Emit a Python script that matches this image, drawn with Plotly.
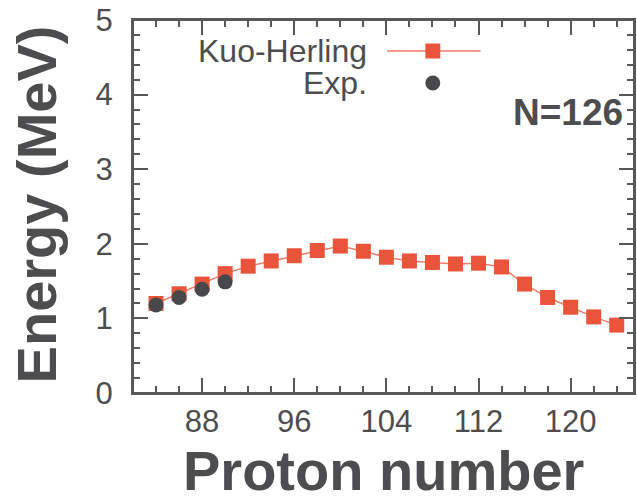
import plotly.graph_objects as go

# Proton number and energies (MeV), N=126 isotones
proton_number = [84, 86, 88, 90, 92, 94, 96, 98, 100, 102, 104, 106, 108, 110,
                 112, 114, 116, 118, 120, 122, 124]
kuo_herling = [1.20, 1.33, 1.46, 1.60, 1.70, 1.77, 1.84, 1.91, 1.97, 1.90, 1.82,
               1.77, 1.75, 1.73, 1.74, 1.69, 1.46, 1.28, 1.15, 1.02, 0.91]

exp_proton = [84, 86, 88, 90]
exp_energy = [1.18, 1.28, 1.39, 1.49]

x_ticks = [88, 96, 104, 112, 120]

RED = "rgb(233,84,58)"
RED_LINE = "rgb(240,125,105)"
DARK = "rgb(72,72,74)"
TEXT = "rgb(77,77,79)"
GREY = "rgb(88,88,90)"
FONT = "Liberation Sans, Arial, sans-serif"

W, H = 637, 501
L, R, T, B = 133, 1, 20, 108
pw, ph = W - L - R, H - T - B


# helpers taking pixel positions as measured on the reference
def px(x):
    return (x - L) / pw


def py(y):
    return (T + ph - y) / ph


fig = go.Figure()

fig.add_trace(go.Scatter(
    x=proton_number, y=kuo_herling, mode="lines+markers", name="Kuo-Herling",
    line=dict(color=RED_LINE, width=1.5),
    marker=dict(symbol="square", size=15, color=RED),
))
fig.add_trace(go.Scatter(
    x=exp_proton, y=exp_energy, mode="markers", name="Exp.",
    marker=dict(symbol="circle", size=15, color=DARK),
))

fig.update_xaxes(
    range=[82, 125.5], tickmode="array", tickvals=x_ticks,
    minor=dict(dtick=2, tick0=0, ticks="inside", ticklen=7,
               tickcolor=GREY, tickwidth=1.5),
    showline=True, linecolor=GREY, linewidth=2, mirror="allticks",
    ticks="inside", ticklen=15, tickwidth=1.5, tickcolor=GREY,
    showgrid=False, zeroline=False,
    tickfont=dict(family=FONT, size=31, color=TEXT),
)
fig.update_yaxes(
    range=[0, 5], dtick=1, tick0=0,
    minor=dict(dtick=0.2, ticks="inside", ticklen=7,
               tickcolor=GREY, tickwidth=1.5),
    showline=True, linecolor=GREY, linewidth=2, mirror="allticks",
    ticks="inside", ticklen=15, tickwidth=1.5, tickcolor=GREY,
    showgrid=False, zeroline=False,
    ticklabelstandoff=12, ticklabeloverflow="allow",
    tickfont=dict(family=FONT, size=31, color=TEXT),
)

# plot frame
fig.add_shape(type="rect", xref="paper", yref="paper", x0=0, x1=1, y0=0, y1=1,
              line=dict(color=GREY, width=2), layer="above")

# axis titles
fig.add_annotation(text="<b>Proton number</b>", xref="paper", yref="paper",
                   x=0.5, y=py(471), xanchor="center", yanchor="middle",
                   showarrow=False, font=dict(family=FONT, size=56, color=TEXT))
fig.add_annotation(text="<b>Energy (MeV)</b>", xref="paper", yref="paper",
                   x=px(36), y=py(204), xanchor="center", yanchor="middle",
                   textangle=-90, showarrow=False,
                   font=dict(family=FONT, size=56, color=TEXT))
fig.add_annotation(text="<b>N=126</b>", xref="paper", yref="paper",
                   x=px(627), y=py(112), xanchor="right", yanchor="middle",
                   showarrow=False, font=dict(family=FONT, size=37, color=TEXT))

# gnuplot-style key: text on the left, sample on the right
fig.add_annotation(text="Kuo-Herling", xref="paper", yref="paper",
                   x=px(370), y=py(51), xanchor="right", yanchor="middle",
                   showarrow=False, font=dict(family=FONT, size=32, color=TEXT))
fig.add_annotation(text="Exp.", xref="paper", yref="paper",
                   x=px(370), y=py(83), xanchor="right", yanchor="middle",
                   showarrow=False, font=dict(family=FONT, size=32, color=TEXT))
fig.add_shape(type="line", xref="paper", yref="paper",
              x0=px(388), x1=px(482), y0=py(51), y1=py(51),
              line=dict(color=RED_LINE, width=1.5))
fig.add_shape(type="rect", xref="paper", yref="paper",
              x0=px(426.5), x1=px(441.5), y0=py(43.5), y1=py(58.5),
              line=dict(width=0), fillcolor=RED)
fig.add_shape(type="circle", xref="paper", yref="paper",
              x0=px(426.5), x1=px(441.5), y0=py(75.5), y1=py(90.5),
              line=dict(width=0), fillcolor=DARK)

fig.update_layout(
    width=W, height=H,
    margin=dict(l=L, r=R, t=T, b=B),
    paper_bgcolor="white", plot_bgcolor="white",
    showlegend=False,
    font=dict(family=FONT, color=TEXT),
)

# drop the default page margin so the figure sits at the window's corner
fig.write_html("out.html", config={"displayModeBar": False},
               post_script="document.body.style.margin='0';")
